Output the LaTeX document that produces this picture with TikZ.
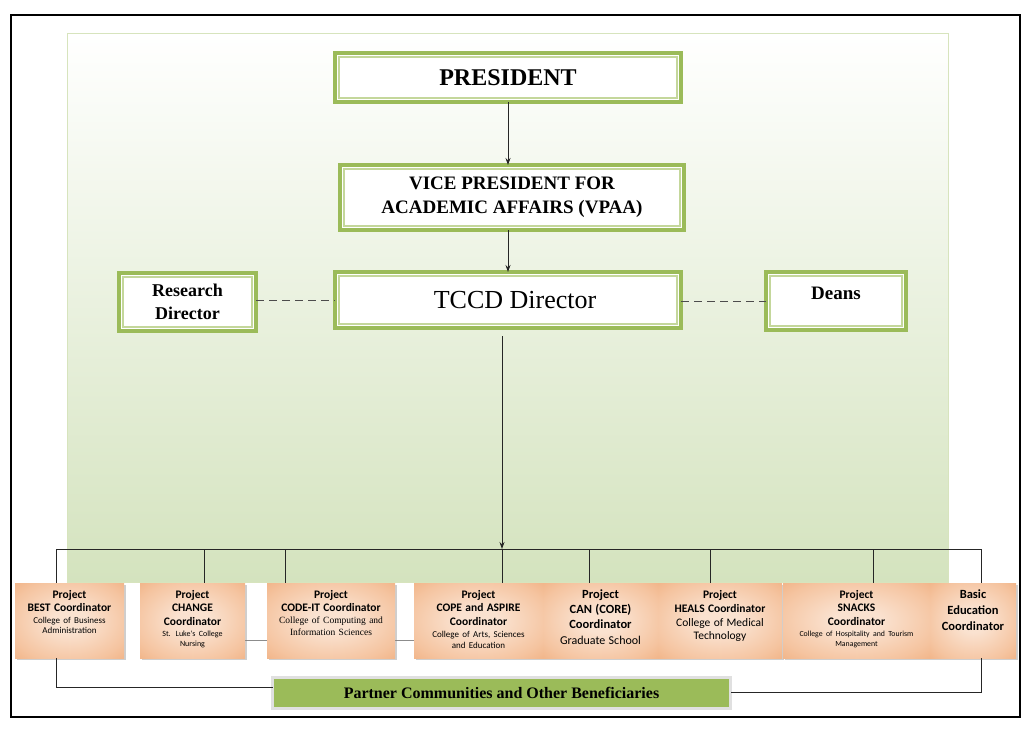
\documentclass[tikz,border=0pt]{standalone}
\usepackage{fontspec}
\setmainfont{Liberation Serif}
\newfontfamily\carl{Carlito}
\usetikzlibrary{arrows.meta,shadows,calc}
\definecolor{gb}{RGB}{155,187,89}
\definecolor{gbl}{RGB}{196,215,155}
\definecolor{peachin}{RGB}{250,226,208}
\definecolor{peachmid}{RGB}{245,196,160}
\definecolor{peachout}{RGB}{236,158,102}
\definecolor{bgbot}{RGB}{212,227,190}
\definecolor{bgedge}{RGB}{215,228,189}
\pgfdeclareradialshading{peach}{\pgfpoint{0bp}{0bp}}{color(0bp)=(peachin); color(8bp)=(peachin); color(28bp)=(peachmid); color(48bp)=(peachout); color(75bp)=(peachout)}
\newcommand\ttlfont{\carl\bfseries\fontsize{11.5}{13.7}\selectfont}
\begin{document}
\begin{tikzpicture}[x=1pt,y=-1pt,
  gbox/.style={draw=gb, line width=4pt, fill=white, inner sep=0pt, outer sep=0pt, align=center},
  obox/.style={shading=peach, minimum height=75pt, inner sep=0pt, outer sep=0pt,
     drop shadow={shadow xshift=1.5pt, shadow yshift=-1.5pt, opacity=.35, fill=black!55}},
  otext/.style={anchor=north, inner sep=0pt, align=center},
  conn/.style={draw=black!85, line width=0.9pt},
  arr/.style={conn, -{Stealth[length=7pt,width=5pt]}},
  dashc/.style={draw=black!70, line width=0.9pt, dash pattern=on 8pt off 5pt}]
\useasboundingbox (0,0) rectangle (1030,730);
% background
\shade[top color=white, bottom color=bgbot, draw=bgedge, line width=0.8pt] (67,33) rectangle (948,582);
\draw[line width=1.5pt] (11,15) rectangle (1020,717);

% top boxes
\node[gbox, minimum width=346pt, minimum height=49pt, font=\fontsize{24}{28}\selectfont\bfseries] (pres) at (508,77.5) {PRESIDENT};
\node[gbox, minimum width=344pt, minimum height=65pt, font=\fontsize{19}{24}\selectfont\bfseries] (vpaa) at (512,197.5) {VICE PRESIDENT FOR\\ACADEMIC AFFAIRS (VPAA)};
\node[gbox, minimum width=346pt, minimum height=56pt] (tccd) at (508,300) {};
\node[inner sep=0pt, font=\fontsize{26}{30}\selectfont] (tccdt) at (515,300.5) {TCCD Director};
\node[gbox, minimum width=137pt, minimum height=58pt, font=\fontsize{18}{23}\selectfont\bfseries] (res) at (187.5,302) {Research\\Director};
\node[gbox, minimum width=140pt, minimum height=58pt] (deans) at (836,301) {};
\node[inner sep=0pt, font=\fontsize{19}{23}\selectfont\bfseries] (deanst) at (836,293) {Deans};
\foreach \n in {pres,vpaa,tccd,res,deans}
  \draw[gbl, line width=1.3pt] ([xshift=3.9pt,yshift=3.9pt]\n.south west) rectangle ([xshift=-3.9pt,yshift=-3.9pt]\n.north east);

\draw[arr] (pres.south) -- (pres.south |- vpaa.north);
\draw[arr] (vpaa.south -| pres.south) -- (pres.south |- tccd.north);
\draw[dashc] (res.east |- tccd.west) -- (tccd.west);
\draw[dashc] (tccd.east |- deans.west) -- (deans.west);

% bus
\coordinate (d1) at (56,549);
\coordinate (d2) at (204,549);
\coordinate (d3) at (285,549);
\coordinate (d4) at (502,549);
\coordinate (d5) at (589,549);
\coordinate (d6) at (710,549);
\coordinate (d7) at (873,549);
\coordinate (d8) at (981,549);
\draw[conn] (d1) -- (d8);
\draw[arr] ([yshift=-8pt]tccd.south -| d4) -- (d4);

% faint line behind boxes
\draw[black!45, line width=0.8pt] (245,640) -- (414,640);

% bottom boxes
\node[obox, minimum width=109pt] (best) at (69.5,620.5) {};
\node[obox, minimum width=105pt] (change) at (192.5,620.5) {};
\node[obox, minimum width=128pt] (code) at (331,620.5) {};
\node[obox, minimum width=129pt] (cope) at (478.5,620.5) {};
\node[obox, minimum width=115pt] (can) at (600.5,620.5) {};
\node[obox, minimum width=124pt] (heals) at (720,620.5) {};
\node[obox, minimum width=147pt] (snacks) at (856.5,620.5) {};
\node[obox, minimum width=86pt] (basic) at (973,620.5) {};

\draw[conn] (d1) -- (d1 |- best.north);
\draw[conn] (d2) -- (d2 |- change.north);
\draw[conn] (d3) -- (d3 |- code.north);
\draw[conn] (d4) -- (d4 |- cope.north);
\draw[conn] (d5) -- (d5 |- can.north);
\draw[conn] (d6) -- (d6 |- heals.north);
\draw[conn] (d7) -- (d7 |- snacks.north);
\draw[conn] (d8) -- (d8 |- basic.north);

\node[otext, text width=105pt] (bestt) at ([yshift=-7pt]best.north)
  {{\ttlfont Project\\BEST Coordinator\par}\vspace{2pt}{\carl\fontsize{9}{10}\selectfont College of Business\\Administration\par}};
\node[otext, text width=101pt] (changet) at ([yshift=-7pt]change.north)
  {{\ttlfont Project\\CHANGE\\Coordinator\par}{\carl\fontsize{8}{10.5}\selectfont St. Luke's College\\Nursing\par}};
\node[otext, text width=126pt] (codet) at ([yshift=-7pt]code.north)
  {{\ttlfont Project\\CODE-IT Coordinator\par}{\fontsize{9.5}{12}\selectfont College of Computing and\\Information Sciences\par}};
\node[otext, text width=125pt] (copet) at ([yshift=-7pt]cope.north)
  {{\ttlfont Project\\COPE and ASPIRE\\Coordinator\par}{\carl\fontsize{9}{11.5}\selectfont College of Arts, Sciences\\and Education\par}};
\node[otext, text width=111pt] (cant) at ([yshift=-6.5pt]can.north)
  {{\carl\bfseries\fontsize{12.5}{15}\selectfont Project\\CAN (CORE)\\Coordinator\par}{\carl\fontsize{12}{16}\selectfont Graduate School\par}};
\node[otext, text width=120pt] (healst) at ([yshift=-7.5pt]heals.north)
  {{\ttlfont Project\\HEALS Coordinator\par}{\carl\fontsize{11.5}{13.7}\selectfont College of Medical\\Technology\par}};
\node[otext, text width=145pt] (snackst) at ([yshift=-7pt]snacks.north)
  {{\ttlfont Project\\SNACKS\\Coordinator\par}{\carl\fontsize{7.8}{10.5}\selectfont College of Hospitality and Tourism\\Management\par}};
\node[otext, text width=84pt] (basict) at ([yshift=-6.5pt]basic.north)
  {{\carl\bfseries\fontsize{12.5}{16}\selectfont Basic\\Education\\Coordinator\par}};

% partner box
\node[draw=black!12, line width=3pt, fill=gb, minimum width=458pt, minimum height=31pt, inner sep=0pt, outer sep=0pt,
  drop shadow={shadow xshift=1.5pt, shadow yshift=-1.5pt, opacity=.3, fill=black!50},
  font=\fontsize{16}{18}\selectfont\bfseries] (partner) at (501.5,692.5) {Partner Communities and Other Beneficiaries};

\draw[conn] (d1 |- best.south) |- ([yshift=5pt]partner.west);
\draw[conn] (d8 |- basic.south) |- (partner.east);
\end{tikzpicture}
\end{document}
